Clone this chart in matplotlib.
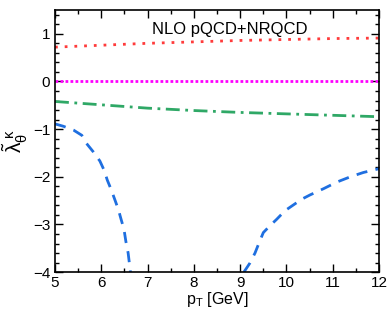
import numpy as np
import matplotlib.pyplot as plt

plt.rcParams['font.family'] = ['Liberation Sans', 'DejaVu Sans']
plt.rcParams['mathtext.fontset'] = 'custom'
plt.rcParams['mathtext.rm'] = 'Liberation Sans'
plt.rcParams['mathtext.it'] = 'Liberation Sans'

# values
pt_red = [5.0, 6.0, 7.0, 8.0, 9.0, 10.0, 11.0, 12.0]
red = [0.72, 0.76, 0.80, 0.83, 0.86, 0.88, 0.90, 0.91]

pt_mag = [5.0, 12.0]
mag = [0.0, 0.0]

pt_green = [5.0, 6.0, 7.0, 8.0, 9.0, 10.0, 11.0, 12.0]
green = [-0.42, -0.49, -0.56, -0.61, -0.65, -0.68, -0.71, -0.74]

pt_blue1 = [5.0, 5.18, 5.40, 5.58, 5.68, 5.83, 5.97, 6.06, 6.13, 6.21,
            6.30, 6.37, 6.43, 6.49, 6.53, 6.58, 6.63]
blue1 = [-0.89, -0.94, -1.02, -1.13, -1.30, -1.48, -1.67, -1.86, -2.07, -2.26,
         -2.50, -2.69, -2.90, -3.10, -3.35, -3.60, -4.0]

pt_blue2 = [9.08, 9.21, 9.32, 9.41, 9.50, 9.64, 9.79, 9.97, 10.15, 10.33,
            10.51, 10.80, 11.09, 11.38, 11.66, 12.0]
blue2 = [-4.0, -3.81, -3.60, -3.38, -3.17, -3.03, -2.89, -2.71, -2.59, -2.47,
         -2.38, -2.25, -2.11, -2.00, -1.91, -1.83]

fig = plt.figure(figsize=(3.9, 3.11), dpi=100)
ax = fig.add_axes([0.141, 0.125, 0.831, 0.843])

ax.plot(pt_red, red, color='#ff3b3b', lw=2, ls=(0, (1, 2.5)))
ax.plot(pt_mag, mag, color='#ff00ff', lw=2, ls=(0, (1, 0.8)))
ax.plot(pt_green, green, color='#2fa866', lw=2, ls=(0, (5, 2, 1, 2)))
ax.plot(pt_blue1, blue1, color='#1f6fe0', lw=2, ls=(0, (4, 3)))
ax.plot(pt_blue2, blue2, color='#1f6fe0', lw=2, ls=(0, (4, 3)))

ax.set_xlim(5, 12)
ax.set_ylim(-4, 1.5)
ax.set_xticks(np.arange(5, 13, 1))
ax.set_xticks(np.arange(5, 12.01, 0.5), minor=True)
ax.set_yticks([-4, -3, -2, -1, 0, 1])
ax.set_yticks(np.arange(-4, 1.51, 0.2), minor=True)
ax.tick_params(which='both', direction='in', top=True, right=True, labelsize=11)
ax.tick_params(which='major', length=6, width=1)
ax.tick_params(which='minor', length=3, width=1)
ax.tick_params(axis='x', pad=3)
for s in ax.spines.values():
    s.set_linewidth(1.2)

ax.text(0.54, 0.955, 'NLO pQCD+NRQCD', transform=ax.transAxes, ha='center', va='top', fontsize=12)
ax.set_xlabel(r'p$_\mathregular{T}$ [GeV]', fontsize=11.5, labelpad=0)
ax.set_ylabel(r'$\tilde{\lambda}_{\theta}^{\ \kappa}$', fontsize=15, labelpad=2)

fig.savefig('out.png', dpi=100)
